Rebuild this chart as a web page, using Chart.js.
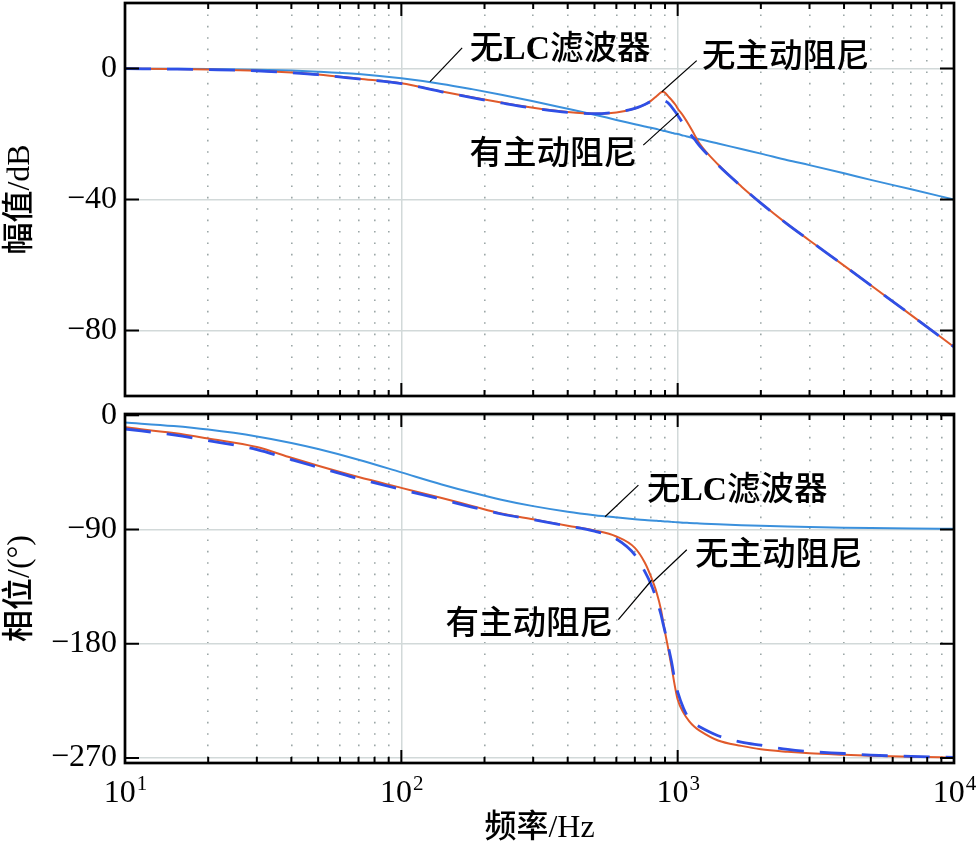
<!DOCTYPE html>
<html>
<head>
<meta charset="utf-8">
<script src="https://cdn.jsdelivr.net/npm/chart.js@4.4.1/dist/chart.umd.min.js"></script>
<style>
  body { margin: 0; background: #fff; }
  #wrap { position: relative; width: 977px; height: 849px; }
  canvas { position: absolute; left: 0; }
</style>
</head>
<body>
<div id="wrap">
  <canvas id="magChart" width="977" height="400" style="top:0"></canvas>
  <canvas id="phaseChart" width="977" height="449" style="top:400px"></canvas>
</div>
<script>
// frequency points, Hz
const freq = [10, 15, 20, 30, 40, 50, 70, 100, 140, 180, 230, 300, 400, 500, 600, 700, 760, 800, 840, 870,
  885, 900, 920, 950, 980, 1000, 1050, 1100, 1150, 1200, 1400, 1700, 2000, 2500, 3000, 4000, 5000, 7000, 10000];

// magnitude, dB
const magNoLC = [-0.04, -0.1, -0.17, -0.37, -0.64, -0.97, -1.7, -3.0, -4.7, -6.3, -8.0, -10.0, -12.3, -14.1, -15.7, -17.0, -17.7, -18.1, -18.5, -18.8,
  -19.0, -19.1, -19.3, -19.6, -19.9, -20.0, -20.5, -20.9, -21.3, -21.6, -22.9, -24.6, -26.0, -28.0, -29.5, -32.0, -34.0, -36.9, -40.0];
const magNoDamp = [0, -0.15, -0.3, -0.65, -1.2, -1.8, -3.1, -4.5, -7.0, -8.8, -10.4, -12.0, -13.3, -13.8, -13.4, -12.2, -11.0, -9.9, -8.4, -7.3,
  -7.1, -7.4, -8.3, -9.6, -11.0, -12.2, -14.6, -17.3, -20.2, -22.9, -29.3, -36.0, -41.1, -47.6, -52.5, -60.2, -66.2, -75.3, -85.0];
const magDamp = [-0.05, -0.2, -0.35, -0.7, -1.3, -1.9, -3.2, -4.6, -7.1, -8.9, -10.5, -12.1, -13.4, -13.8, -13.3, -12.2, -11.0, -10.1, -9.7, -9.6,
  -9.7, -9.9, -10.4, -11.7, -13.2, -14.3, -17.0, -19.6, -21.6, -23.6, -29.5, -36.0, -41.1, -47.6, -52.5, -60.2, -66.2, -75.3, -85.0];

// phase, degrees
const phNoLC = [-5.7, -8.5, -11.3, -16.7, -21.8, -26.6, -35.0, -45.0, -54.5, -60.9, -66.5, -71.6, -76.0, -78.7, -80.5, -81.9, -82.5, -82.9, -83.2, -83.4,
  -83.6, -83.7, -83.8, -84.0, -84.2, -84.3, -84.6, -84.8, -85.0, -85.2, -85.9, -86.6, -87.1, -87.7, -88.1, -88.6, -88.9, -89.2, -89.4];
const phNoDamp = [-9.5, -14, -18.3, -25, -33.5, -39.8, -48.7, -57.2, -65.2, -71.4, -77.4, -82, -87, -90.7, -95.5, -104.5, -116, -127, -140, -153,
  -162, -171, -181.5, -198, -215, -224, -234.5, -241, -245.5, -248.5, -256.3, -260.5, -263.2, -265.2, -266.4, -267.5, -268.2, -269, -269.8];
const phDamp = [-10.8, -15.5, -20, -27, -35, -41, -50, -58.5, -66.3, -72.3, -77.8, -82.3, -87.2, -91.3, -97.5, -110, -123, -133, -145.6, -157,
  -164, -170.5, -180, -194, -210.7, -218, -231, -239, -243, -245.5, -252.5, -257.5, -260, -263.3, -265, -266.5, -267.8, -268.8, -269.6];

const seriesNames = ['无LC滤波器', '无主动阻尼', '有主动阻尼'];
const magTicks = [-80, -40, 0];
const phaseTicks = [-270, -180, -90, 0];
const freqDecades = [10, 100, 1000, 10000];
const decadeExp = ['1', '2', '3', '4'];

// callouts: leader line from a point on the curve to the label, all in data units
const magNotes = [
  { text: seriesNames[0], line: [[127, -4.0], [166, 6.3]], at: [177, 6.6], align: 'left' },
  { text: seriesNames[1], line: [[876, -7.1], [1172, 2.4]], at: [1225, 4.1], align: 'left' },
  { text: seriesNames[2], line: [[751, -23.4], [1006, -13.7]], at: [713, -25.5], align: 'right' }
];
const phaseNotes = [
  { text: seriesNames[0], line: [[546, -80], [721, -55]], at: [774, -57.3], align: 'left' },
  { text: seriesNames[1], line: [[817, -131], [1079, -106]], at: [1156, -108], align: 'left' },
  { text: seriesNames[2], line: [[610, -161], [805, -130]], at: [583, -162.6], align: 'right' }
];

const FONT = '"Liberation Serif", "Times New Roman", "Noto Sans CJK SC", serif';
const NOTE_SIZE = 33.5;

// 1..9 per decade, used for grid lines and inner ticks
const gridFreqs = [];
for (let d = 10; d < 10000; d *= 10) {
  for (let k = 1; k < 10; k++) gridFreqs.push(k * d);
}
gridFreqs.push(10000);

function isDecade(v) {
  const l = Math.log10(v);
  return Math.abs(l - Math.round(l)) < 1e-6;
}

function pts(arr) {
  return freq.map((f, i) => ({ x: f, y: arr[i] }));
}

function makeDatasets(noLC, noDamp, damp) {
  return [
    { label: seriesNames[2], data: pts(damp), borderColor: '#2f4fe6', borderWidth: 2.8, borderDash: [26, 16], order: 0 },
    { label: seriesNames[1], data: pts(noDamp), borderColor: '#e05a2b', borderWidth: 2, order: 1 },
    { label: seriesNames[0], data: pts(noLC), borderColor: '#3a90dc', borderWidth: 2, order: 2 }
  ];
}

// latin runs in bold serif, CJK runs in Noto; y is the visual middle
function drawRich(ctx, text, x, y, align, size) {
  const runs = text.split(/([A-Za-z0-9]+)/).filter(s => s);
  const fontFor = s => /^[A-Za-z0-9]+$/.test(s)
    ? 'bold ' + size + 'px "Liberation Serif"'
    : '500 ' + size + 'px "Noto Sans CJK SC"';
  let total = 0;
  runs.forEach(r => { ctx.font = fontFor(r); total += ctx.measureText(r).width; });
  let cx = align === 'right' ? x - total : x;
  ctx.textAlign = 'left';
  ctx.textBaseline = 'alphabetic';
  runs.forEach(r => {
    ctx.font = fontFor(r);
    ctx.fillText(r, cx, y + size * 0.37);
    cx += ctx.measureText(r).width;
  });
}

const boxPlugin = {
  id: 'box',
  afterDraw(chart, args, opts) {
    const { ctx, chartArea: a, scales } = chart;
    const x = scales.x, y = scales.y;
    ctx.save();
    ctx.strokeStyle = '#000';

    // inward ticks on all four sides
    ctx.lineWidth = 2;
    ctx.beginPath();
    gridFreqs.forEach(v => {
      const px = x.getPixelForValue(v);
      const len = isDecade(v) ? 13 : 6;
      ctx.moveTo(px, a.bottom); ctx.lineTo(px, a.bottom - len);
      ctx.moveTo(px, a.top); ctx.lineTo(px, a.top + len);
    });
    opts.yTicks.forEach(v => {
      const py = y.getPixelForValue(v);
      ctx.moveTo(a.left, py); ctx.lineTo(a.left + 14, py);
      ctx.moveTo(a.right, py); ctx.lineTo(a.right - 14, py);
    });
    ctx.stroke();

    ctx.lineWidth = 2.7;
    ctx.strokeRect(a.left, a.top, a.right - a.left, a.bottom - a.top);

    // callouts
    ctx.lineWidth = 1.2;
    ctx.fillStyle = '#000';
    opts.notes.forEach(n => {
      ctx.beginPath();
      ctx.moveTo(x.getPixelForValue(n.line[0][0]), y.getPixelForValue(n.line[0][1]));
      ctx.lineTo(x.getPixelForValue(n.line[1][0]), y.getPixelForValue(n.line[1][1]));
      ctx.stroke();
      drawRich(ctx, n.text, x.getPixelForValue(n.at[0]), y.getPixelForValue(n.at[1]), n.align, NOTE_SIZE);
    });

    // 10^n labels under the lower plot
    if (opts.decadeLabels) {
      ctx.textBaseline = 'alphabetic';
      ctx.textAlign = 'left';
      freqDecades.forEach((f, i) => {
        const px = x.getPixelForValue(f);
        ctx.font = '32px ' + FONT;
        const wb = ctx.measureText('10').width;
        ctx.font = '21px ' + FONT;
        const we = ctx.measureText(decadeExp[i]).width;
        const x0 = px - (wb + we) / 2;
        ctx.font = '32px ' + FONT;
        ctx.fillText('10', x0, a.bottom + 38.5);
        ctx.font = '21px ' + FONT;
        ctx.fillText(decadeExp[i], x0 + wb + 1, a.bottom + 27);
      });
    }
    ctx.restore();
  }
};

function makeScales(cfg) {
  return {
    x: {
      type: 'logarithmic', min: 10, max: 10000, position: 'bottom',
      afterBuildTicks: s => { s.ticks = gridFreqs.map(v => ({ value: v })); },
      afterFit: s => { s.height = cfg.xHeight; s.paddingLeft = 0; s.paddingRight = 0; },
      ticks: { display: false },
      grid: { drawTicks: false, lineWidth: 1.5, color: c => isDecade(c.tick.value) ? '#d2d9d9' : 'rgba(0,0,0,0)' },
      border: { display: false },
      title: cfg.xTitle ? {
        display: true, text: cfg.xTitle, color: '#000',
        font: { family: FONT, size: 32, weight: '500' }, padding: { top: 0, bottom: 1 }
      } : { display: false }
    },
    xm: {
      type: 'logarithmic', min: 10, max: 10000, position: 'top',
      afterBuildTicks: s => { s.ticks = gridFreqs.map(v => ({ value: v })); },
      afterFit: s => { s.height = 0; s.paddingLeft = 0; s.paddingRight = 0; },
      ticks: { display: false },
      grid: { drawTicks: false, lineWidth: 1.6, color: c => isDecade(c.tick.value) ? 'rgba(0,0,0,0)' : '#9ca7a7' },
      border: { display: false, dash: [1.6, 9.8] }
    },
    y: {
      min: cfg.yMin, max: cfg.yMax,
      afterBuildTicks: s => { s.ticks = cfg.yTicks.map(v => ({ value: v })); },
      afterFit: s => { s.width = 125; s.paddingTop = 0; s.paddingBottom = 0; },
      ticks: {
        padding: 8, color: '#000', font: { family: FONT, size: 32 },
        callback: v => v < 0 ? '\u2212' + (-v) : String(v)
      },
      grid: { drawTicks: false, lineWidth: 1.5, color: '#d2d9d9' },
      border: { display: false },
      title: {
        display: true, text: cfg.yTitle, color: '#000',
        font: { family: FONT, size: 32, weight: '500' }, padding: { top: 1, bottom: 0 }
      }
    }
  };
}

const baseOptions = {
  responsive: false,
  animation: false,
  elements: { point: { radius: 0 }, line: { fill: false, cubicInterpolationMode: 'monotone' } },
  plugins: { legend: { display: false }, tooltip: { enabled: false } }
};

const magChart = new Chart(document.getElementById('magChart').getContext('2d'), {
  type: 'line',
  data: { datasets: makeDatasets(magNoLC, magNoDamp, magDamp) },
  options: {
    ...baseOptions,
    layout: { padding: { top: 3, right: 23, left: 0, bottom: 0 } },
    scales: makeScales({ xHeight: 4, yMin: -100, yMax: 20, yTicks: magTicks, yTitle: '幅值/dB' }),
    plugins: { ...baseOptions.plugins, box: { yTicks: magTicks, notes: magNotes, decadeLabels: false } }
  },
  plugins: [boxPlugin]
});

const phaseChart = new Chart(document.getElementById('phaseChart').getContext('2d'), {
  type: 'line',
  data: { datasets: makeDatasets(phNoLC, phNoDamp, phDamp) },
  options: {
    ...baseOptions,
    layout: { padding: { top: 14, right: 23, left: 0, bottom: 0 } },
    scales: makeScales({ xHeight: 86, yMin: -274, yMax: 1, yTicks: phaseTicks, yTitle: '相位/(°)', xTitle: '频率/Hz' }),
    plugins: { ...baseOptions.plugins, box: { yTicks: phaseTicks, notes: phaseNotes, decadeLabels: true } }
  },
  plugins: [boxPlugin]
});
</script>
</body>
</html>
